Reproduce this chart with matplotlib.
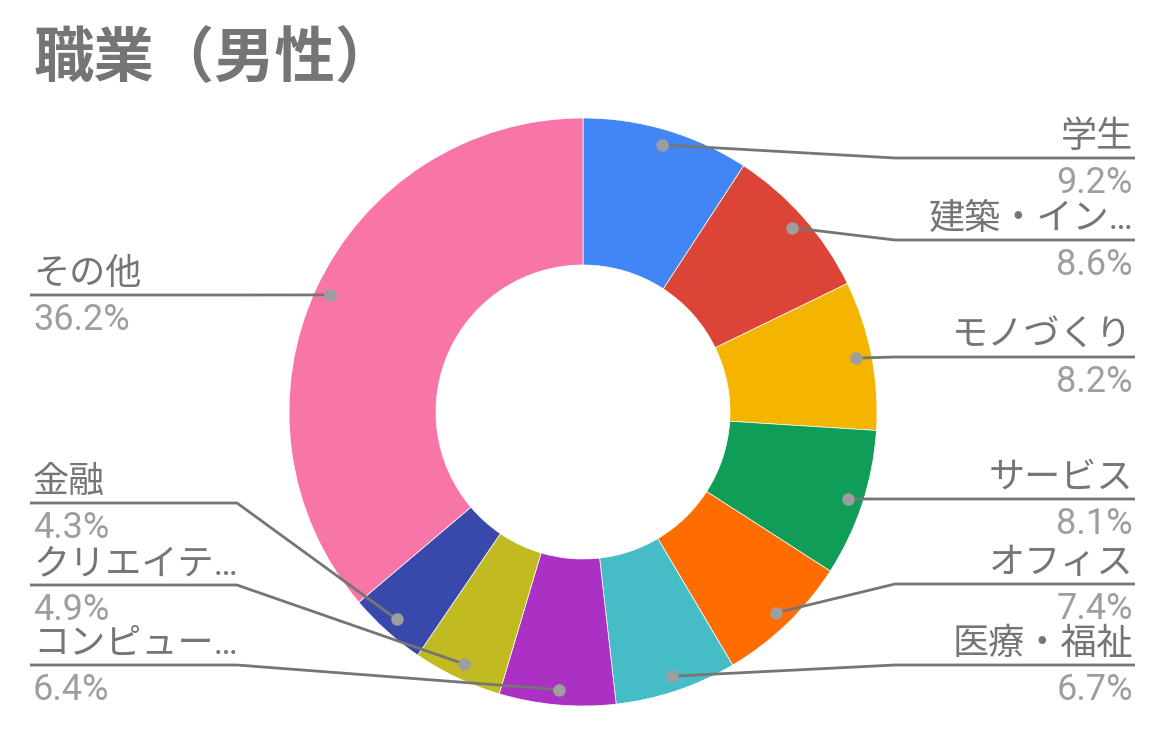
"""Donut chart of occupations (male respondents)."""

import numpy as np
from matplotlib import pyplot as plt

labels = ["学生", "建築・イン…", "モノづくり", "サービス", "オフィス",
          "医療・福祉", "コンピュー…", "クリエイテ…", "金融", "その他"]
values = [9.2, 8.6, 8.2, 8.1, 7.4, 6.7, 6.4, 4.9, 4.3, 36.2]
colors = ["#4285F4", "#DB4437", "#F4B400", "#0F9D58", "#FF6D00",
          "#46BDC6", "#AB30C4", "#C1BB21", "#3949AB", "#F875A8"]

# label line heights in pixels (from top), and which side each label sits on
label_y = [158, 240, 357, 499, 584, 665, 665, 585, 503, 295]
sides = ["R", "R", "R", "R", "R", "R", "L", "L", "L", "L"]

W, H = 1170, 740
CX, CY, R = 583, H - 412, 294
TEXT_GRAY = "#757575"
PCT_GRAY = "#9E9E9E"
FONTS = ["Roboto", "Noto Sans CJK JP", "DejaVu Sans"]


def main():
    plt.rcParams["font.family"] = FONTS
    fig = plt.figure(figsize=(W / 100, H / 100), dpi=100)
    ax = fig.add_axes([0, 0, 1, 1])
    ax.set_aspect("equal")
    ax.axis("off")

    wedges, _ = ax.pie(values, colors=colors, startangle=90, counterclock=False,
                       center=(CX, CY), radius=R, normalize=True,
                       wedgeprops=dict(width=R * 0.5, edgecolor="white",
                                       linewidth=0.5))
    ax.set_xlim(0, W)
    ax.set_ylim(0, H)

    for wedge, name, val, ly, side in zip(wedges, labels, values, label_y, sides):
        mid = np.deg2rad((wedge.theta1 + wedge.theta2) / 2)
        dx = CX + R * 0.948 * np.cos(mid)
        dy = CY + R * 0.948 * np.sin(mid)
        y = H - ly
        if side == "R":
            elbow, end, tx, ha = 895, 1135, 1133, "right"
        else:
            elbow, end, tx, ha = 237, 30, 33, "left"
        ax.plot([dx, elbow, end], [dy, y, y], color=TEXT_GRAY, lw=2,
                solid_capstyle="butt", zorder=3)
        ax.plot(dx, dy, "o", color=PCT_GRAY, ms=9, mec="none", zorder=4)
        ax.text(tx, y + 11, name, ha=ha, va="baseline", fontsize=26,
                color=TEXT_GRAY)
        ax.text(tx, y - 35, f"{val:.1f}%", ha=ha, va="baseline", fontsize=26,
                color=PCT_GRAY)

    fig.text(34 / W, 1 - 60 / H, "職業（男性）", fontsize=43.5, fontweight="bold",
             color=TEXT_GRAY, va="center", ha="left",
             family=["Noto Sans CJK JP", "DejaVu Sans"])
    fig.savefig("out.png", dpi=100)
    plt.close(fig)


if __name__ == "__main__":
    main()
